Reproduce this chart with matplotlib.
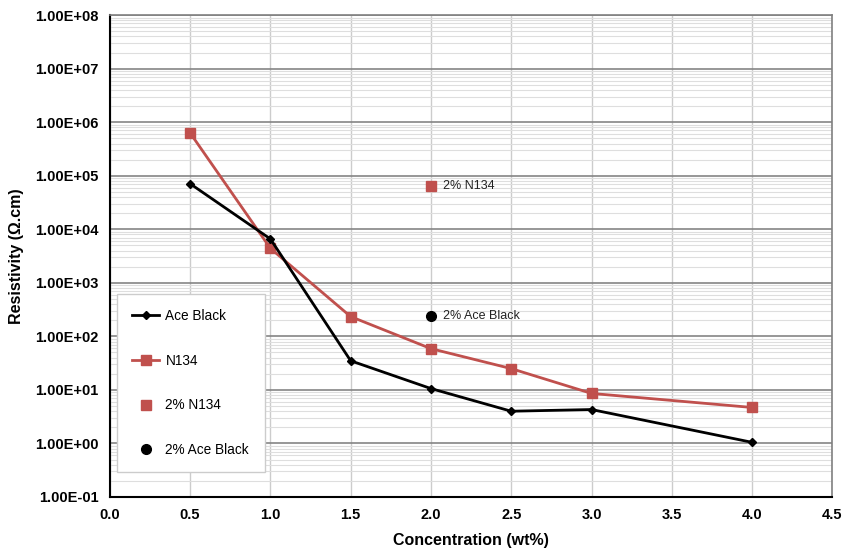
import numpy as np
import matplotlib
matplotlib.use("Agg")
import matplotlib.pyplot as plt
from matplotlib.ticker import LogLocator, FixedLocator

plt.rcParams['font.family'] = ['Liberation Sans', 'DejaVu Sans']

conc = [0.5, 1.0, 1.5, 2.0, 2.5, 3.0, 4.0]
ace_black = [7.1e4, 6.6e3, 35, 10.6, 4.0, 4.3, 1.05]
n134 = [6.3e5, 4.4e3, 234, 59, 25, 8.6, 4.7]
single_x = 2.0
single_n134 = 6.5e4
single_ace = 245

red = "#c0504d"

fig = plt.figure(figsize=(8.45, 5.6), dpi=100)
ax = fig.add_axes([0.130, 0.1125, 0.855, 0.8605])

ax.plot(conc, ace_black, color="black", lw=2, marker="D", ms=4.5, label="Ace Black", zorder=4)
ax.plot(conc, n134, color=red, lw=2, marker="s", ms=7.5, label="N134", zorder=3)
ax.plot([single_x], [single_n134], ls="none", color=red, marker="s", ms=7.5, label="2% N134", zorder=4)
ax.plot([single_x], [single_ace], ls="none", color="black", marker="o", ms=7, label="2% Ace Black", zorder=4)

ax.annotate("2% N134", (single_x, single_n134), xytext=(9, 0), textcoords="offset points",
            va="center", ha="left", fontsize=9, color="#222222")
ax.annotate("2% Ace Black", (single_x, single_ace), xytext=(9, 0), textcoords="offset points",
            va="center", ha="left", fontsize=9, color="#222222")

ax.set_yscale("log")
ax.set_ylim(1e-1, 1e8)
ax.set_xlim(0, 4.5)
ax.set_xticks(np.arange(0, 4.51, 0.5))
ax.set_xticklabels(["%.1f" % v for v in np.arange(0, 4.51, 0.5)])
ax.yaxis.set_major_locator(FixedLocator([10.0 ** k for k in range(-1, 9)]))
ax.set_yticklabels(["%.2fE%+03d" % (1.0, k) for k in range(-1, 9)])
ax.yaxis.set_minor_locator(LogLocator(base=10, subs=np.arange(2, 10)))
ax.yaxis.set_minor_formatter(plt.NullFormatter())

ax.grid(True, which="major", axis="y", color="#858585", lw=1.2)
ax.grid(True, which="minor", axis="y", color="#dedede", lw=0.8)
ax.grid(True, which="major", axis="x", color="#cccccc", lw=1.0)
ax.set_axisbelow(True)

for s in ["top", "right"]:
    ax.spines[s].set_color("#808080")
    ax.spines[s].set_linewidth(1.2)
for s in ["left", "bottom"]:
    ax.spines[s].set_color("black")
    ax.spines[s].set_linewidth(1.5)

ax.tick_params(which="both", length=0, pad=8)
for lab in ax.get_xticklabels() + ax.get_yticklabels():
    lab.set_fontweight("bold")
    lab.set_fontsize(10.5)

ax.set_xlabel("Concentration (wt%)", fontsize=11.5, fontweight="bold", labelpad=8)
ax.set_ylabel("Resistivity (\u03a9.cm)", fontsize=11.5, fontweight="bold", labelpad=8)

leg = ax.legend(loc="lower left", bbox_to_anchor=(0.01, 0.052, 0.205, 0.36), mode="expand",
                borderaxespad=0, fontsize=9.8, labelspacing=2.25, handlelength=2.0,
                handletextpad=0.45, borderpad=1.1, fancybox=False, framealpha=1,
                edgecolor="#cccccc")
leg.get_frame().set_linewidth(1.0)

fig.savefig("out.png", dpi=100)
